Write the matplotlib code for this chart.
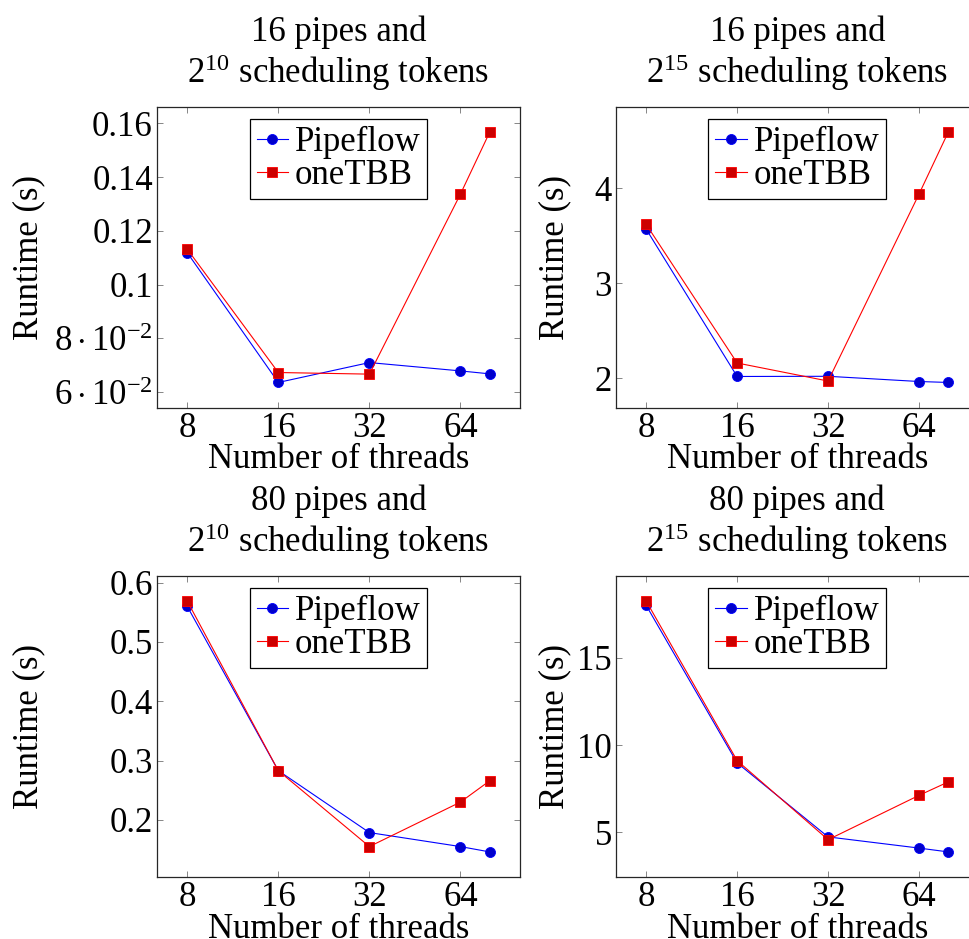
import numpy as np
import matplotlib
matplotlib.use('Agg')
import matplotlib.pyplot as plt
from matplotlib.ticker import FixedLocator, FixedFormatter, NullLocator

plt.rcParams['font.family'] = ['Liberation Serif', 'DejaVu Serif']
plt.rcParams['mathtext.fontset'] = 'custom'
plt.rcParams['mathtext.rm'] = 'Liberation Serif'
plt.rcParams['mathtext.it'] = 'Liberation Serif:italic'
plt.rcParams['font.size'] = 25

# data
threads = [8, 16, 32, 64, 80]

pipeflow_16_10 = [0.1119, 0.0636, 0.0710, 0.0679, 0.0668]
onetbb_16_10 = [0.1132, 0.0673, 0.0667, 0.1337, 0.1568]

pipeflow_16_15 = [3.57, 2.018, 2.02, 1.965, 1.955]
onetbb_16_15 = [3.62, 2.16, 1.97, 3.94, 4.594]

pipeflow_80_10 = [0.560, 0.283, 0.1786, 0.155, 0.146]
onetbb_80_10 = [0.569, 0.283, 0.155, 0.230, 0.266]

pipeflow_80_15 = [18.0, 8.98, 4.74, 4.10, 3.88]
onetbb_80_15 = [18.25, 9.11, 4.58, 7.12, 7.89]

titles = ['16 pipes and\n$2^{10}$ scheduling tokens',
          '16 pipes and\n$2^{15}$ scheduling tokens',
          '80 pipes and\n$2^{10}$ scheduling tokens',
          '80 pipes and\n$2^{15}$ scheduling tokens']

yticks = [[0.06, 0.08, 0.1, 0.12, 0.14, 0.16],
          [2, 3, 4],
          [0.2, 0.3, 0.4, 0.5, 0.6],
          [5, 10, 15]]
ytick_labels = [[r'$6\cdot10^{-2}$', r'$8\cdot10^{-2}$', '0.1', '0.12', '0.14', '0.16'],
                ['2', '3', '4'],
                ['0.2', '0.3', '0.4', '0.5', '0.6'],
                ['5', '10', '15']]
xticks = [8, 16, 32, 64]

series = [(pipeflow_16_10, onetbb_16_10),
          (pipeflow_16_15, onetbb_16_15),
          (pipeflow_80_10, onetbb_80_10),
          (pipeflow_80_15, onetbb_80_15)]

fig = plt.figure(figsize=(9.69, 9.39), dpi=100)
W, H = 969, 939
boxes = [(157, 107, 520, 407.5), (616, 107, 978.5, 407.5),
         (157, 576, 520, 877), (616, 576, 978.5, 877)]
ylab_x = [-0.309, -0.122, -0.309, -0.122]

for k, (x0, y0, x1, y1) in enumerate(boxes):
    ax = fig.add_axes([x0 / W, 1 - y1 / H, (x1 - x0) / W, (y1 - y0) / H])
    pf, tb = series[k]
    ax.plot(threads, pf, color='blue', lw=0.8, marker='o', ms=7.2,
            mfc=(0, 0, 0.8), mec='blue', mew=0.6, label='Pipeflow')
    ax.plot(threads, tb, color='red', lw=0.8, marker='s', ms=6.6,
            mfc=(0.8, 0, 0), mec='red', mew=0.6, label='oneTBB')
    ax.set_xscale('log', base=2)
    lx = np.log2(threads)
    ex = 0.1 * (lx.max() - lx.min())
    ax.set_xlim(2 ** (lx.min() - ex), 2 ** (lx.max() + ex))
    allv = np.array(pf + tb)
    ey = 0.1 * (allv.max() - allv.min())
    ax.set_ylim(allv.min() - ey, allv.max() + ey)
    ax.xaxis.set_major_locator(FixedLocator(xticks))
    ax.xaxis.set_major_formatter(FixedFormatter([str(t) for t in xticks]))
    ax.xaxis.set_minor_locator(NullLocator())
    ax.yaxis.set_major_locator(FixedLocator(yticks[k]))
    ax.yaxis.set_major_formatter(FixedFormatter(ytick_labels[k]))
    ax.tick_params(direction='in', length=4.5, width=0.6, color='0.45',
                   top=True, right=True, pad=3)
    for s in ax.spines.values():
        s.set_linewidth(0.9)
        s.set_color('0.15')
    ax.set_xlabel('Number of threads', labelpad=-1)
    ax.set_ylabel('Runtime (s)')
    ax.yaxis.set_label_coords(ylab_x[k], 0.5)
    ax.set_title(titles[k], fontsize=25, pad=17, linespacing=1.12)
    leg = ax.legend(loc='upper center', fontsize=25, frameon=True, fancybox=False,
                    framealpha=1, edgecolor='black', borderpad=0.2,
                    handlelength=0.9, handletextpad=0.2, labelspacing=0.0,
                    borderaxespad=0.35)
    leg.get_frame().set_linewidth(0.9)

fig.savefig('out.png', dpi=100)
